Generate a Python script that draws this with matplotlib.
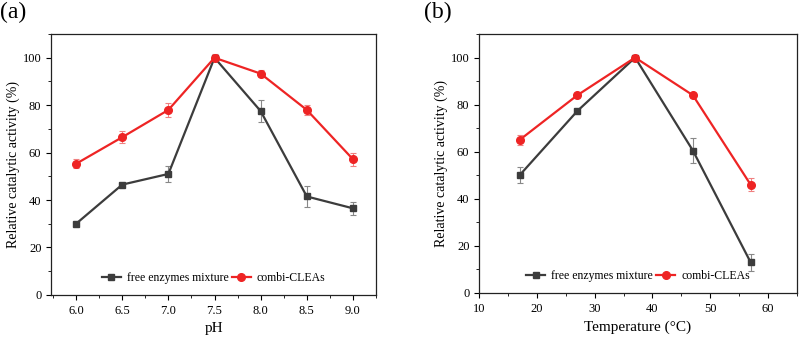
import matplotlib
matplotlib.use("Agg")
import matplotlib.pyplot as plt
from matplotlib.ticker import MultipleLocator, FormatStrFormatter

plt.rcParams['font.family'] = ['Liberation Serif', 'DejaVu Serif']

# pH panel
ph = [6.0, 6.5, 7.0, 7.5, 8.0, 8.5, 9.0]
ph_free = [30, 46.5, 51, 100, 77.5, 41.5, 36.5]
ph_free_err = [0.8, 0.8, 3.5, 0.8, 4.5, 4.5, 2.7]
ph_combi = [55.3, 66.5, 78, 100, 93.3, 78, 57.2]
ph_combi_err = [1.8, 2.5, 3.0, 1.5, 1.5, 2.2, 2.8]

# temperature panel
temp = [17, 27, 37, 47, 57]
t_free = [50, 77.3, 100, 60.5, 13]
t_free_err = [3.5, 0.8, 0.8, 5.3, 3.5]
t_combi = [65, 84, 100, 84, 46]
t_combi_err = [2.0, 1.0, 1.0, 1.0, 2.7]

black = '#3c3c3c'
red = '#ee2424'

fig = plt.figure(figsize=(8, 3.37), dpi=100)
ax1 = fig.add_axes([0.064, 0.125, 0.406, 0.774])
ax2 = fig.add_axes([0.599, 0.131, 0.397, 0.768])

def draw(ax, x, free, free_err, combi, combi_err):
    ax.errorbar(x, free, yerr=free_err, fmt='none', ecolor='#888888',
                elinewidth=0.8, capsize=2.5, capthick=0.8, zorder=2)
    ax.errorbar(x, combi, yerr=combi_err, fmt='none', ecolor='#f08080',
                elinewidth=0.8, capsize=2.5, capthick=0.8, zorder=2)
    ax.plot(x, free, color=black, marker='s', ms=5, lw=1.6,
            label='free enzymes mixture', zorder=3)
    ax.plot(x, combi, color=red, marker='o', ms=5.5, lw=1.6,
            label='combi-CLEAs', zorder=3)
    ax.set_ylim(0, 110)
    ax.yaxis.set_major_locator(MultipleLocator(20))
    ax.yaxis.set_minor_locator(MultipleLocator(10))
    ax.tick_params(which='both', direction='out', labelsize=9, top=False, right=False)
    ax.tick_params(which='major', length=3.5)
    ax.tick_params(which='minor', length=2)
    for s in ax.spines.values():
        s.set_color('#222222')
        s.set_linewidth(0.9)
    ax.set_ylabel('Relative catalytic activity (%)', fontsize=10, labelpad=2)
    ax.legend(loc='lower center', ncol=2, frameon=False, fontsize=8.5,
              handlelength=1.6, columnspacing=0.3, handletextpad=0.5,
              bbox_to_anchor=(0.5, 0.0))

draw(ax1, ph, ph_free, ph_free_err, ph_combi, ph_combi_err)
ax1.set_xlim(5.73, 9.25)
ax1.xaxis.set_major_locator(MultipleLocator(0.5))
ax1.xaxis.set_minor_locator(MultipleLocator(0.25))
ax1.xaxis.set_major_formatter(FormatStrFormatter('%.1f'))
ax1.set_xlabel('pH', fontsize=11)

draw(ax2, temp, t_free, t_free_err, t_combi, t_combi_err)
ax2.set_xlim(10, 65)
ax2.xaxis.set_major_locator(MultipleLocator(10))
ax2.xaxis.set_minor_locator(MultipleLocator(5))
ax2.set_xlabel('Temperature (°C)', fontsize=11)

fig.text(0.0, 0.995, '(a)', fontsize=17, va='top', ha='left')
fig.text(0.53, 0.995, '(b)', fontsize=17, va='top', ha='left')

fig.savefig('out.png', dpi=100)
